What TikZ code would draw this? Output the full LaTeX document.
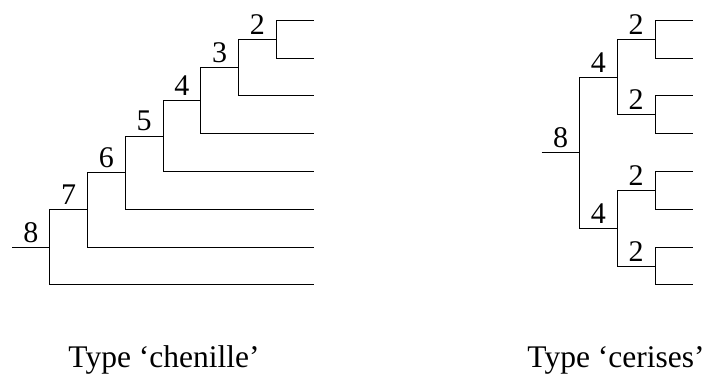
\documentclass[tikz,border=0pt]{standalone}
\usepackage{fontspec}
\setmainfont{Liberation Serif}
\begin{document}
\begin{tikzpicture}[x=1pt,y=-1pt,
  edge/.style={draw=black,line width=0.9pt},
  lab/.style={above=4.5pt,inner sep=0pt,font=\fontsize{30}{32}\selectfont},
  caption/.style={anchor=base,inner sep=0pt,font=\fontsize{31.5}{34}\selectfont}]
\useasboundingbox (0,0) rectangle (705,374);
% ---------- left tree: type chenille ----------
\coordinate (cs) at (12,247.4);
\coordinate (c8) at (49.75,247.4);
\coordinate (c7) at (87.5,209.89);
\coordinate (c6) at (125.25,172.68);
\coordinate (c5) at (163,136.06);
\coordinate (c4) at (200.75,100.625);
\coordinate (c3) at (238.5,67.55);
\coordinate (c2) at (276.25,39.2);
\coordinate (cl1) at (314,20.3);
\coordinate (cl2) at (314,58.1);
\coordinate (cl3) at (314,95.9);
\coordinate (cl4) at (314,133.7);
\coordinate (cl5) at (314,171.5);
\coordinate (cl6) at (314,209.3);
\coordinate (cl7) at (314,247.1);
\coordinate (cl8) at (314,284.9);
\draw[edge] (cs) -- node[lab]{8} (c8);
\draw[edge] (c8) |- node[pos=0.75,lab]{7} (c7);
\draw[edge] (c8) |- (cl8);
\draw[edge] (c7) |- node[pos=0.75,lab]{6} (c6);
\draw[edge] (c7) |- (cl7);
\draw[edge] (c6) |- node[pos=0.75,lab]{5} (c5);
\draw[edge] (c6) |- (cl6);
\draw[edge] (c5) |- node[pos=0.75,lab]{4} (c4);
\draw[edge] (c5) |- (cl5);
\draw[edge] (c4) |- node[pos=0.75,lab]{3} (c3);
\draw[edge] (c4) |- (cl4);
\draw[edge] (c3) |- node[pos=0.75,lab]{2} (c2);
\draw[edge] (c3) |- (cl3);
\draw[edge] (c2) |- (cl1);
\draw[edge] (c2) |- (cl2);
\node[caption] (capc) at (164,367) {Type ‘chenille’};
% ---------- right tree: type cerises ----------
\coordinate (rs) at (541.7,152.6);
\coordinate (r8) at (579.45,152.6);
\coordinate (rb1) at (617.2,77);
\coordinate (rb2) at (617.2,228.2);
\coordinate (ra1) at (654.95,39.2);
\coordinate (ra2) at (654.95,114.8);
\coordinate (ra3) at (654.95,190.4);
\coordinate (ra4) at (654.95,266);
\coordinate (rl1) at (692.7,20.3);
\coordinate (rl2) at (692.7,58.1);
\coordinate (rl3) at (692.7,95.9);
\coordinate (rl4) at (692.7,133.7);
\coordinate (rl5) at (692.7,171.5);
\coordinate (rl6) at (692.7,209.3);
\coordinate (rl7) at (692.7,247.1);
\coordinate (rl8) at (692.7,284.9);
\draw[edge] (rs) -- node[lab]{8} (r8);
\draw[edge] (r8) |- node[pos=0.75,lab]{4} (rb1);
\draw[edge] (r8) |- node[pos=0.75,lab]{4} (rb2);
\draw[edge] (rb1) |- node[pos=0.75,lab]{2} (ra1);
\draw[edge] (rb1) |- node[pos=0.75,lab]{2} (ra2);
\draw[edge] (rb2) |- node[pos=0.75,lab]{2} (ra3);
\draw[edge] (rb2) |- node[pos=0.75,lab]{2} (ra4);
\draw[edge] (ra1) |- (rl1);
\draw[edge] (ra1) |- (rl2);
\draw[edge] (ra2) |- (rl3);
\draw[edge] (ra2) |- (rl4);
\draw[edge] (ra3) |- (rl5);
\draw[edge] (ra3) |- (rl6);
\draw[edge] (ra4) |- (rl7);
\draw[edge] (ra4) |- (rl8);
\node[caption] (capr) at (616,367) {Type ‘cerises’};
\end{tikzpicture}
\end{document}
